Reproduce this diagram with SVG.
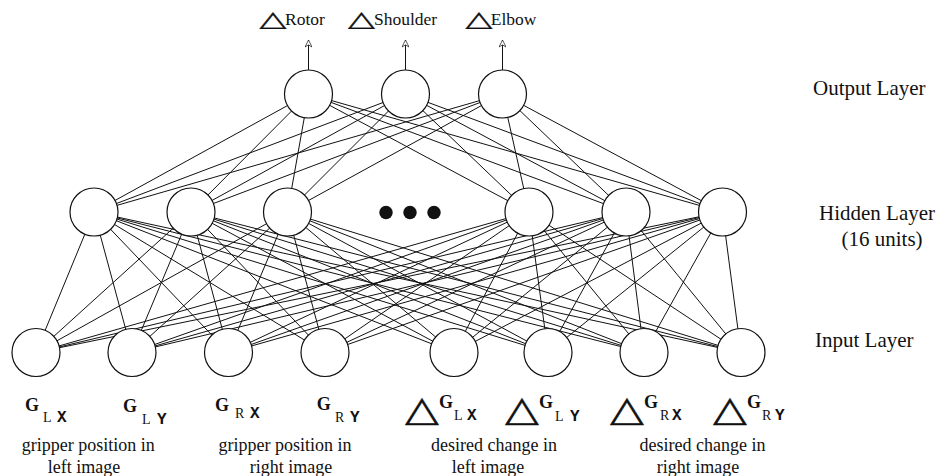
<svg xmlns="http://www.w3.org/2000/svg" width="938" height="476" viewBox="0 0 938 476">
  <style>
    .c { stroke: #111; stroke-width: 1; fill: none; }
    .n { fill: #fff; stroke: #111; stroke-width: 1.2; }
    .dot { fill: #111; }
    .lbl { font-family: "Liberation Serif", "Times New Roman", "DejaVu Serif", serif; fill: #111; }
    .top { font-size: 17.5px; }
    .side { font-size: 21px; }
    .desc { font-size: 18px; text-anchor: middle; }
    .g { font-size: 18px; font-weight: bold; }
    .sub { font-size: 14px; }
    .mono { font-family: "Liberation Mono", "Courier New", monospace; font-size: 16px; font-weight: bold; fill: #111; }
    .tri { font-family: "DejaVu Sans", sans-serif; fill: #111; stroke: #111; stroke-width: 0.5; }
  </style>
  <defs>
    <marker id="ah" viewBox="0 0 10 10" refX="10" refY="5" markerUnits="userSpaceOnUse" markerWidth="8" markerHeight="7" orient="auto">
      <path d="M0,0 L10,5 L0,10 L3,5 Z" fill="#fff" stroke="#111" stroke-width="1"/>
    </marker>
  </defs>

  <!-- connectors: output<-hidden and hidden<-input, drawn beneath the units -->
  <g id="connectors">
    <!-- output arrows -->
    <line class="c" x1="308.5" y1="70" x2="308.5" y2="40" marker-end="url(#ah)"/>
    <line class="c" x1="405.5" y1="70" x2="405.5" y2="40" marker-end="url(#ah)"/>
    <line class="c" x1="502.5" y1="70" x2="502.5" y2="40" marker-end="url(#ah)"/>
    <!-- hidden to output -->
    <line class="c" x1="94" y1="212" x2="308.5" y2="94"/>
    <line class="c" x1="94" y1="212" x2="405.5" y2="94"/>
    <line class="c" x1="94" y1="212" x2="502.5" y2="94"/>
    <line class="c" x1="191" y1="212" x2="308.5" y2="94"/>
    <line class="c" x1="191" y1="212" x2="405.5" y2="94"/>
    <line class="c" x1="191" y1="212" x2="502.5" y2="94"/>
    <line class="c" x1="287.5" y1="212" x2="308.5" y2="94"/>
    <line class="c" x1="287.5" y1="212" x2="405.5" y2="94"/>
    <line class="c" x1="287.5" y1="212" x2="502.5" y2="94"/>
    <line class="c" x1="529" y1="212" x2="308.5" y2="94"/>
    <line class="c" x1="529" y1="212" x2="405.5" y2="94"/>
    <line class="c" x1="529" y1="212" x2="502.5" y2="94"/>
    <line class="c" x1="626" y1="212" x2="308.5" y2="94"/>
    <line class="c" x1="626" y1="212" x2="405.5" y2="94"/>
    <line class="c" x1="626" y1="212" x2="502.5" y2="94"/>
    <line class="c" x1="722.5" y1="212" x2="308.5" y2="94"/>
    <line class="c" x1="722.5" y1="212" x2="405.5" y2="94"/>
    <line class="c" x1="722.5" y1="212" x2="502.5" y2="94"/>
    <!-- input to hidden -->
    <line class="c" x1="36" y1="352.5" x2="94" y2="212"/>
    <line class="c" x1="36" y1="352.5" x2="191" y2="212"/>
    <line class="c" x1="36" y1="352.5" x2="287.5" y2="212"/>
    <line class="c" x1="36" y1="352.5" x2="529" y2="212"/>
    <line class="c" x1="36" y1="352.5" x2="626" y2="212"/>
    <line class="c" x1="36" y1="352.5" x2="722.5" y2="212"/>
    <line class="c" x1="132" y1="352.5" x2="94" y2="212"/>
    <line class="c" x1="132" y1="352.5" x2="191" y2="212"/>
    <line class="c" x1="132" y1="352.5" x2="287.5" y2="212"/>
    <line class="c" x1="132" y1="352.5" x2="529" y2="212"/>
    <line class="c" x1="132" y1="352.5" x2="626" y2="212"/>
    <line class="c" x1="132" y1="352.5" x2="722.5" y2="212"/>
    <line class="c" x1="228.5" y1="352.5" x2="94" y2="212"/>
    <line class="c" x1="228.5" y1="352.5" x2="191" y2="212"/>
    <line class="c" x1="228.5" y1="352.5" x2="287.5" y2="212"/>
    <line class="c" x1="228.5" y1="352.5" x2="529" y2="212"/>
    <line class="c" x1="228.5" y1="352.5" x2="626" y2="212"/>
    <line class="c" x1="228.5" y1="352.5" x2="722.5" y2="212"/>
    <line class="c" x1="325" y1="352.5" x2="94" y2="212"/>
    <line class="c" x1="325" y1="352.5" x2="191" y2="212"/>
    <line class="c" x1="325" y1="352.5" x2="287.5" y2="212"/>
    <line class="c" x1="325" y1="352.5" x2="529" y2="212"/>
    <line class="c" x1="325" y1="352.5" x2="626" y2="212"/>
    <line class="c" x1="325" y1="352.5" x2="722.5" y2="212"/>
    <line class="c" x1="454" y1="352.5" x2="94" y2="212"/>
    <line class="c" x1="454" y1="352.5" x2="191" y2="212"/>
    <line class="c" x1="454" y1="352.5" x2="287.5" y2="212"/>
    <line class="c" x1="454" y1="352.5" x2="529" y2="212"/>
    <line class="c" x1="454" y1="352.5" x2="626" y2="212"/>
    <line class="c" x1="454" y1="352.5" x2="722.5" y2="212"/>
    <line class="c" x1="548" y1="352.5" x2="94" y2="212"/>
    <line class="c" x1="548" y1="352.5" x2="191" y2="212"/>
    <line class="c" x1="548" y1="352.5" x2="287.5" y2="212"/>
    <line class="c" x1="548" y1="352.5" x2="529" y2="212"/>
    <line class="c" x1="548" y1="352.5" x2="626" y2="212"/>
    <line class="c" x1="548" y1="352.5" x2="722.5" y2="212"/>
    <line class="c" x1="644" y1="352.5" x2="94" y2="212"/>
    <line class="c" x1="644" y1="352.5" x2="191" y2="212"/>
    <line class="c" x1="644" y1="352.5" x2="287.5" y2="212"/>
    <line class="c" x1="644" y1="352.5" x2="529" y2="212"/>
    <line class="c" x1="644" y1="352.5" x2="626" y2="212"/>
    <line class="c" x1="644" y1="352.5" x2="722.5" y2="212"/>
    <line class="c" x1="741" y1="352.5" x2="94" y2="212"/>
    <line class="c" x1="741" y1="352.5" x2="191" y2="212"/>
    <line class="c" x1="741" y1="352.5" x2="287.5" y2="212"/>
    <line class="c" x1="741" y1="352.5" x2="529" y2="212"/>
    <line class="c" x1="741" y1="352.5" x2="626" y2="212"/>
    <line class="c" x1="741" y1="352.5" x2="722.5" y2="212"/>
  </g>

  <!-- output units -->
  <g id="out-rotor"><circle class="n" cx="308.5" cy="94" r="24"/></g>
  <g id="out-shoulder"><circle class="n" cx="405.5" cy="94" r="24"/></g>
  <g id="out-elbow"><circle class="n" cx="502.5" cy="94" r="24"/></g>

  <!-- hidden units -->
  <g id="hid-1"><circle class="n" cx="94" cy="212" r="24"/></g>
  <g id="hid-2"><circle class="n" cx="191" cy="212" r="24"/></g>
  <g id="hid-3"><circle class="n" cx="287.5" cy="212" r="24"/></g>
  <g id="hid-ellipsis">
    <circle class="dot" cx="386" cy="212.5" r="6.7"/>
    <circle class="dot" cx="410" cy="212.5" r="6.7"/>
    <circle class="dot" cx="434" cy="212.5" r="6.7"/>
  </g>
  <g id="hid-14"><circle class="n" cx="529" cy="212" r="24"/></g>
  <g id="hid-15"><circle class="n" cx="626" cy="212" r="24"/></g>
  <g id="hid-16"><circle class="n" cx="722.5" cy="212" r="24"/></g>

  <!-- input units -->
  <g id="in-glx"><circle class="n" cx="36" cy="352.5" r="24"/></g>
  <g id="in-gly"><circle class="n" cx="132" cy="352.5" r="24"/></g>
  <g id="in-grx"><circle class="n" cx="228.5" cy="352.5" r="24"/></g>
  <g id="in-gry"><circle class="n" cx="325" cy="352.5" r="24"/></g>
  <g id="in-dglx"><circle class="n" cx="454" cy="352.5" r="24"/></g>
  <g id="in-dgly"><circle class="n" cx="548" cy="352.5" r="24"/></g>
  <g id="in-dgrx"><circle class="n" cx="644" cy="352.5" r="24"/></g>
  <g id="in-dgry"><circle class="n" cx="741" cy="352.5" r="24"/></g>

  <!-- output labels -->
  <g id="top-labels">
    <text class="tri" font-size="35" transform="translate(259.5,25.7) scale(1,0.62)">△</text>
    <text class="lbl top" x="285" y="25">Rotor</text>
    <text class="tri" font-size="35" transform="translate(348,25.7) scale(1,0.62)">△</text>
    <text class="lbl top" x="374" y="25">Shoulder</text>
    <text class="tri" font-size="35" transform="translate(465.5,25.7) scale(1,0.62)">△</text>
    <text class="lbl top" x="490.7" y="25">Elbow</text>
  </g>

  <!-- layer names -->
  <g id="layer-labels">
    <text class="lbl side" x="813" y="94.5">Output Layer</text>
    <text class="lbl side" x="819" y="219.5">Hidden Layer</text>
    <text class="lbl side" x="841.5" y="245.5">(16 units)</text>
    <text class="lbl side" x="815" y="346.5">Input Layer</text>
  </g>

  <!-- input symbols -->
  <g id="input-symbols">
    <text class="lbl g" x="25" y="411">G</text>
    <text class="lbl sub" x="43" y="421.7">L</text>
    <text class="mono" x="57" y="421.7">X</text>

    <text class="lbl g" x="123" y="411.7">G</text>
    <text class="lbl sub" x="142" y="424.3">L</text>
    <text class="mono" x="157" y="424.3">Y</text>

    <text class="lbl g" x="215" y="411">G</text>
    <text class="lbl sub" x="235" y="418.3">R</text>
    <text class="mono" x="250" y="418.3">X</text>

    <text class="lbl g" x="316.7" y="410">G</text>
    <text class="lbl sub" x="335" y="421.7">R</text>
    <text class="mono" x="350" y="421.7">Y</text>

    <text class="tri" font-size="44" transform="translate(404.9,420.5) scale(1,0.8)">△</text>
    <text class="lbl g" x="439" y="408.3">G</text>
    <text class="lbl sub" x="454" y="420">L</text>
    <text class="mono" x="467" y="420">X</text>

    <text class="tri" font-size="44" transform="translate(504.9,420.5) scale(1,0.8)">△</text>
    <text class="lbl g" x="539" y="408.3">G</text>
    <text class="lbl sub" x="555" y="421">L</text>
    <text class="mono" x="570" y="421">Y</text>

    <text class="tri" font-size="44" transform="translate(609.9,420.5) scale(1,0.8)">△</text>
    <text class="lbl g" x="644" y="408.3">G</text>
    <text class="lbl sub" x="660" y="420">R</text>
    <text class="mono" x="672" y="420">X</text>

    <text class="tri" font-size="44" transform="translate(712.9,420.5) scale(1,0.8)">△</text>
    <text class="lbl g" x="747" y="408.3">G</text>
    <text class="lbl sub" x="762" y="420">R</text>
    <text class="mono" x="775" y="420">Y</text>
  </g>

  <!-- input group captions -->
  <g id="captions">
    <text class="lbl desc" x="88.3" y="451">gripper position in</text>
    <text class="lbl desc" x="84" y="473">left image</text>
    <text class="lbl desc" x="285" y="451">gripper position in</text>
    <text class="lbl desc" x="291" y="473">right image</text>
    <text class="lbl desc" x="494" y="451">desired change in</text>
    <text class="lbl desc" x="488" y="473">left image</text>
    <text class="lbl desc" x="702.5" y="451">desired change in</text>
    <text class="lbl desc" x="698" y="473">right image</text>
  </g>
</svg>
